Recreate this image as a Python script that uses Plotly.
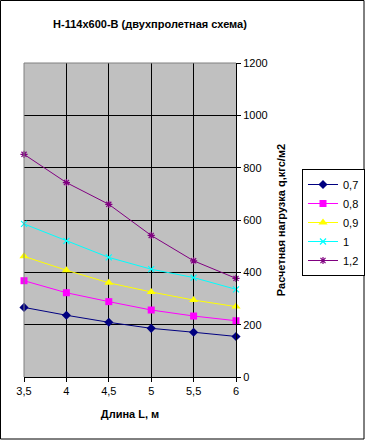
import plotly.graph_objects as go

lengths = [3.5, 4, 4.5, 5, 5.5, 6]
x_tick_labels = ["3,5", "4", "4,5", "5", "5,5", "6"]
y_ticks = [0, 200, 400, 600, 800, 1000, 1200]
y_tick_labels = ["0", "200", "400", "600", "800", "1000", "1200"]

series_names = ["0,7", "0,8", "0,9", "1", "1,2"]
q_07 = [266, 236, 209, 186, 171, 155]
q_08 = [368, 322, 288, 256, 233, 215]
q_09 = [461, 408, 360, 325, 294, 269]
q_10 = [585, 520, 457, 412, 380, 335]
q_12 = [851, 743, 660, 541, 444, 377]

colors = ["#000080", "#FF00FF", "#FFFF00", "#00FFFF", "#800080"]
symbols = ["diamond", "square", "triangle-up", "x-thin", "asterisk"]
sizes = [7, 7, 8, 6, 6]

W, H = 365, 441
L, R, T, B = 24, 129, 63, 64
pw = W - L - R
ph = H - T - B

fig = go.Figure()
for name, vals, c, s, sz in zip(series_names, [q_07, q_08, q_09, q_10, q_12], colors, symbols, sizes):
    thin = s in ("x-thin", "asterisk")
    fig.add_trace(go.Scatter(
        x=lengths, y=vals, name=name, mode="lines+markers",
        line=dict(color=c, width=1),
        marker=dict(symbol=s, size=sz, color=c,
                    line=dict(color=c, width=1.2 if thin else 0)),
        cliponaxis=False,
    ))

font = "Liberation Sans, Arial, sans-serif"
fig.update_layout(
    width=W, height=H,
    margin=dict(l=L, r=R, t=T, b=B, autoexpand=False),
    paper_bgcolor="white",
    plot_bgcolor="#C0C0C0",
    font=dict(family=font, size=11, color="black"),
    title=dict(text="<b>Н-114х600-В (двухпролетная схема)</b>",
               x=(150) / W, xanchor="center", y=1 - 24 / H, yanchor="middle",
               font=dict(size=11, family=font)),
    showlegend=True,
    legend=dict(x=(302 - L) / pw, y=(377 - 169) / ph, xanchor="left", yanchor="top",
                bordercolor="black", borderwidth=1, bgcolor="white",
                font=dict(size=11, family=font), tracegroupgap=0,
                itemwidth=30),
    xaxis=dict(range=[3.5, 6], tickvals=lengths, ticktext=x_tick_labels,
               showgrid=True, gridcolor="black", gridwidth=1,
               ticks="outside", ticklen=4, tickcolor="black",
               showline=True, linecolor="black", linewidth=1,
               zeroline=False, automargin=False,
               title=dict(text="<b>Длина L, м</b>", standoff=14,
                          font=dict(size=11))),
    yaxis=dict(range=[0, 1200], side="right", tickvals=y_ticks, ticktext=y_tick_labels,
               showgrid=True, gridcolor="black", gridwidth=1,
               ticks="outside", ticklen=4, tickcolor="black",
               showline=True, linecolor="black", linewidth=1,
               zeroline=False, automargin=False,
               title=dict(text="<b>Расчетная нагрузка q,кгс/м2</b>", standoff=10,
                          font=dict(size=11))),
)

# plot area border (left/top gray)
fig.add_shape(type="line", xref="paper", yref="paper", x0=0, x1=0, y0=0, y1=1,
              line=dict(color="#808080", width=1), layer="above")
fig.add_shape(type="line", xref="paper", yref="paper", x0=0, x1=1, y0=1, y1=1,
              line=dict(color="#808080", width=1), layer="above")
# chart outer border
fig.add_shape(type="rect", xref="paper", yref="paper",
              x0=(0.5 - L) / pw, x1=(364 - L) / pw,
              y0=(T + ph - 439) / ph, y1=(T + ph - 0.5) / ph,
              line=dict(color="black", width=1), layer="above")

fig.write_html("out.html", config={"displayModeBar": False},
               post_script="document.body.style.margin='0';document.body.style.padding='0';")
